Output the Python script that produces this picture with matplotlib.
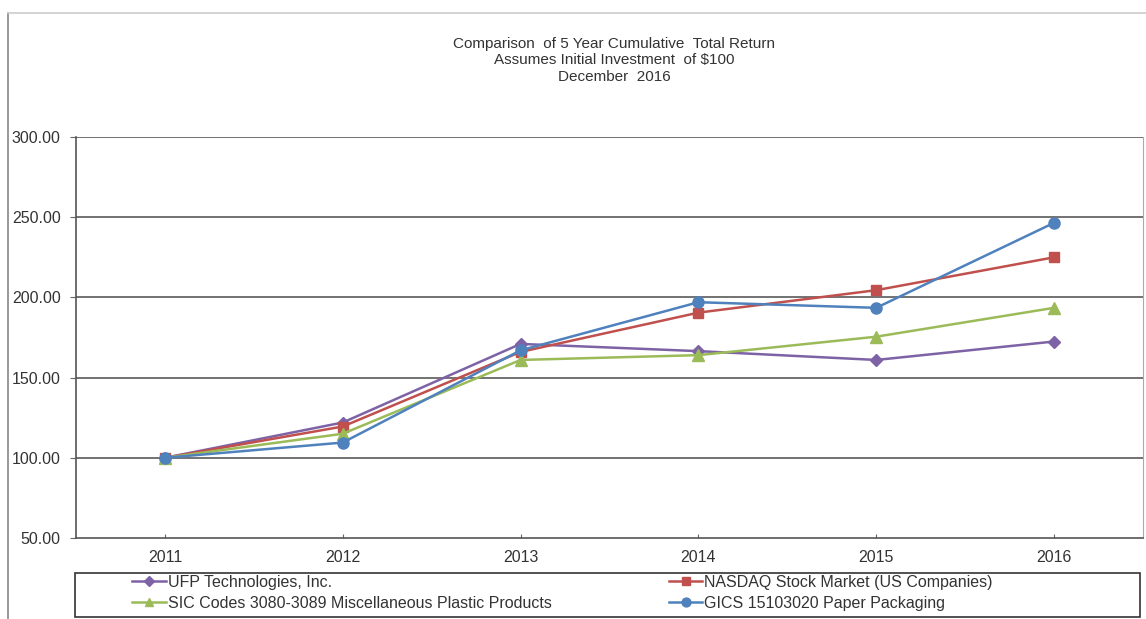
import matplotlib
matplotlib.use("Agg")
import matplotlib.pyplot as plt
from matplotlib.lines import Line2D
from matplotlib.patches import Rectangle

plt.rcParams['font.family'] = ['Liberation Sans', 'DejaVu Sans']

years = ['2011', '2012', '2013', '2014', '2015', '2016']
ufp = [100.0, 122.0, 171.0, 166.5, 161.0, 172.5]
nasdaq = [100.0, 119.5, 166.0, 190.5, 204.5, 225.0]
sic = [100.0, 115.0, 161.0, 164.0, 175.5, 193.5]
gics = [100.0, 109.5, 167.0, 197.0, 193.5, 246.5]

series_names = [
    'UFP Technologies, Inc.',
    'NASDAQ Stock Market (US Companies)',
    'SIC Codes 3080-3089 Miscellaneous Plastic Products',
    'GICS 15103020 Paper Packaging',
]
y_ticks = [50, 100, 150, 200, 250, 300]

W, H = 1146, 619
fig = plt.figure(figsize=(W / 100, H / 100), dpi=100)
ax = fig.add_axes([76 / W, 1 - 538 / H, (1143 - 76) / W, (538 - 137) / H])

styles = [
    (ufp, '#7e62a6', 'D', 6.5),
    (nasdaq, '#c0504d', 's', 7),
    (sic, '#9bbb59', '^', 8),
    (gics, '#4f81bd', 'o', 8),
]
x = list(range(len(years)))
handles = []
for (vals, col, mk, ms), name in zip(styles, series_names):
    ln, = ax.plot(x, vals, color=col, lw=1.8, marker=mk, ms=ms, zorder=3, label=name)
    handles.append(ln)

ax.set_xlim(-0.5, len(years) - 0.5)
ax.set_ylim(50, 300)
ax.set_xticks(x)
ax.set_xticklabels(years, fontsize=11.5, color='#333333')
ax.set_yticks(y_ticks)
ax.set_yticklabels([f'{v:.2f}' for v in y_ticks], fontsize=11.5, color='#333333')
ax.tick_params(axis='y', length=4, color='#666666', pad=7)
ax.tick_params(axis='x', length=3, direction='in', color='#666666', pad=9)

for v in y_ticks[1:]:
    ax.axhline(v, color='#5a5a5a', lw=1.2, zorder=1)
for s in ['left', 'bottom']:
    ax.spines[s].set_color('#555555')
    ax.spines[s].set_linewidth(1.2)
ax.spines['top'].set_visible(False)
ax.spines['right'].set_color('#aaaaaa')

fig.text(0.536, 1 - 37 / H, 'Comparison  of 5 Year Cumulative  Total Return\n'
         'Assumes Initial Investment  of $100\nDecember  2016',
         ha='center', va='top', fontsize=11, color='#333333', linespacing=1.22)

# outer frame lines
fig.add_artist(Line2D([8 / W, 8 / W], [0, 1 - 13 / H], color='#888888', lw=1.2))
fig.add_artist(Line2D([8 / W, 1], [1 - 13 / H, 1 - 13 / H], color='#cccccc', lw=1.2))

# legend box; entries ordered so rows read UFP/NASDAQ, SIC/GICS
fig.add_artist(Rectangle((75 / W, 2 / H), (1140 - 75) / W, (617 - 573) / H,
                         transform=fig.transFigure, fill=False, ec='#333333', lw=1.2))
fig.legend(handles=[handles[0], handles[2], handles[1], handles[3]], ncol=2,
           loc='lower left', bbox_to_anchor=(118 / W, -6 / H), frameon=False,
           fontsize=11.5, handlelength=2.1, handletextpad=0.1, columnspacing=7.35,
           labelspacing=0.35, markerscale=0.8, labelcolor='#333333')

fig.savefig('out.png', dpi=100)
